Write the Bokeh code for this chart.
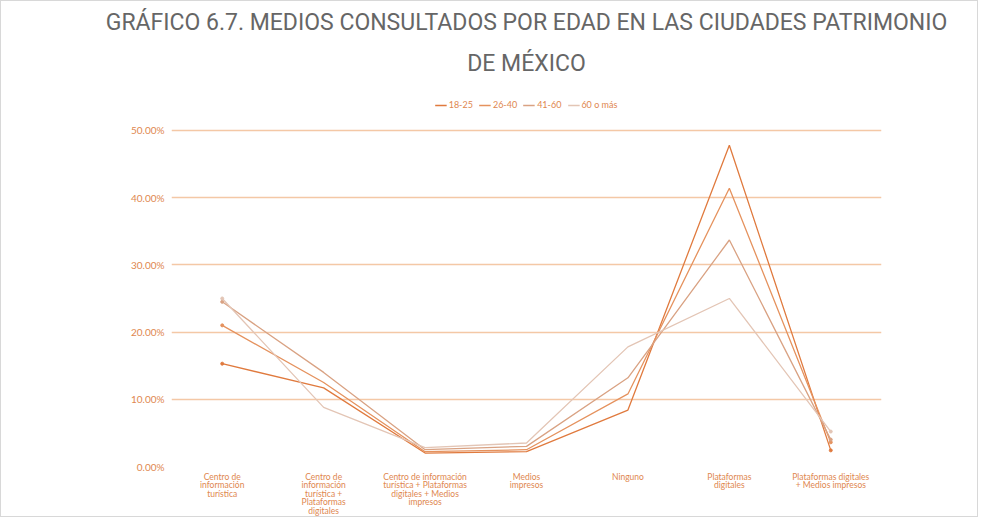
from bokeh.plotting import figure
from bokeh.models import Title, Legend, LegendItem, NumeralTickFormatter, FactorRange
from bokeh.embed import file_html
from bokeh.resources import INLINE

categories = [
    "Centro de\ninformación\nturística",
    "Centro de\ninformación\nturística +\nPlataformas\ndigitales",
    "Centro de información\nturística + Plataformas\ndigitales + Medios\nimpresos",
    "Medios\nimpresos",
    "Ninguno",
    "Plataformas\ndigitales",
    "Plataformas digitales\n+ Medios impresos",
]
series_names = ["18-25", "26-40", "41-60", "60 o más"]
v_18_25 = [0.153, 0.117, 0.020, 0.022, 0.084, 0.478, 0.024]
v_26_40 = [0.210, 0.125, 0.022, 0.025, 0.108, 0.414, 0.036]
v_41_60 = [0.245, 0.140, 0.025, 0.030, 0.132, 0.337, 0.040]
v_60_mas = [0.250, 0.088, 0.028, 0.035, 0.178, 0.250, 0.052]
values = [v_18_25, v_26_40, v_41_60, v_60_mas]
colors = ["#e07a3e", "#e5925e", "#d9a283", "#e3c5b5"]
y_ticks = [0, 0.1, 0.2, 0.3, 0.4, 0.5]
title_line1 = "GRÁFICO 6.7. MEDIOS CONSULTADOS POR EDAD EN LAS CIUDADES PATRIMONIO"
title_line2 = "DE MÉXICO"

ORANGE = "#e0874f"

p = figure(width=978, height=517, x_range=FactorRange(*categories), y_range=(0, 0.552),
           output_backend="svg", toolbar_location=None,
           min_border_left=170, min_border_right=98, min_border_bottom=0,
           min_border_top=94)
p.styles = {"border": "1px solid #d8d8d8"}

renderers = []
for vals, c in zip(values, colors):
    r = p.line(categories, vals, line_color=c, line_width=1.3)
    renderers.append(r)
    p.scatter([categories[0], categories[-1]], [vals[0], vals[-1]], size=3,
              color=c)

legend = Legend(items=[LegendItem(label=n, renderers=[r]) for n, r in zip(series_names, renderers)],
                orientation="horizontal", location="top_center",
                label_text_font="Lato", label_text_font_size="9px", label_text_color=ORANGE,
                glyph_width=12, glyph_height=8, spacing=6, label_standoff=2,
                border_line_color=None, background_fill_alpha=0, padding=2, margin=4)
p.add_layout(legend)

p.add_layout(Title(text=title_line2, align="center", text_font="Roboto",
                   text_font_size="23px", text_font_style="normal", text_color="#666666",
                   standoff=37), "above")
p.add_layout(Title(text=title_line1, align="center", text_font="Roboto",
                   text_font_size="23px", text_font_style="normal", text_color="#666666",
                   standoff=-12), "above")

p.yaxis.ticker = y_ticks
p.yaxis.formatter = NumeralTickFormatter(format="0.00%")
for ax in (p.xaxis[0], p.yaxis[0]):
    ax.axis_line_color = None
    ax.major_tick_line_color = None
    ax.minor_tick_line_color = None
    ax.major_tick_out = 0
    ax.major_tick_in = 0
    ax.minor_tick_out = 0
    ax.major_label_text_color = ORANGE
    ax.major_label_text_font = "Lato"
p.xaxis.major_label_text_font_size = "8.5px"
p.yaxis.major_label_text_font_size = "10px"
p.xaxis.major_label_standoff = 5
p.xaxis.major_label_text_line_height = 0.85
p.yaxis.major_label_standoff = 7

p.xgrid.grid_line_color = None
p.ygrid.grid_line_color = "#f4c8a6"
p.ygrid.grid_line_width = 1.5
p.ygrid.ticker = y_ticks
p.outline_line_color = None
p.background_fill_color = "white"

open("out.html", "w").write(file_html(p, INLINE))
